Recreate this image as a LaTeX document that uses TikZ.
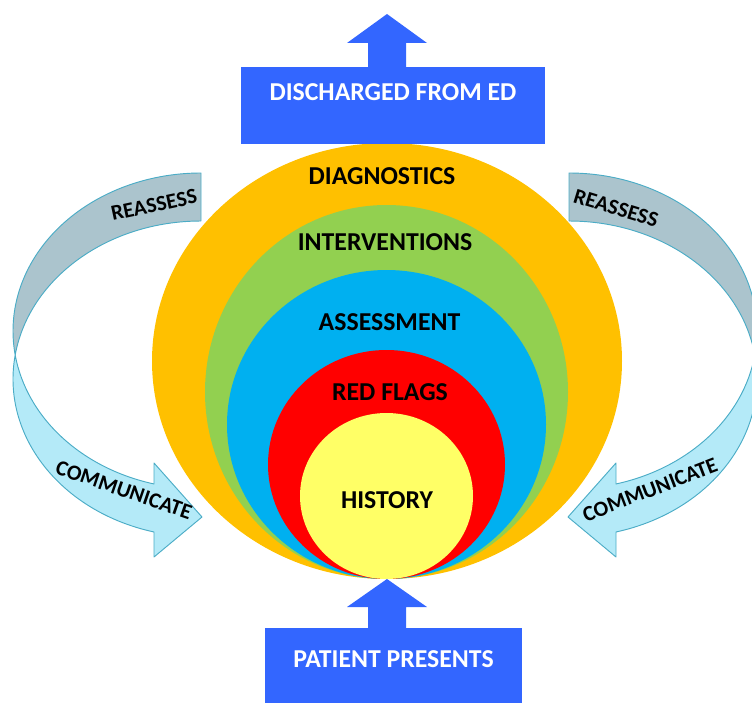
\documentclass[tikz,border=0pt]{standalone}
\usepackage{fontspec}
\setmainfont{Carlito}
\usepackage{xcolor}

\definecolor{ringorange}{HTML}{FFC000}
\definecolor{ringgreen}{HTML}{92D050}
\definecolor{ringblue}{HTML}{00B0F0}
\definecolor{ringred}{HTML}{FF0000}
\definecolor{ringyellow}{HTML}{FFFF66}
\definecolor{boxblue}{HTML}{3366FF}
\definecolor{ribbonback}{HTML}{ABC4CD}
\definecolor{ribbonfront}{HTML}{B4EAF8}
\definecolor{ribbonline}{HTML}{4BACC6}

\begin{document}
\begin{tikzpicture}[x=0.03cm, y=-0.03cm,
    ringlabel/.style={font=\bfseries\fontsize{22}{26}\selectfont, inner sep=0pt},
    looplabel/.style={font=\bfseries\fontsize{18.5}{22}\selectfont, inner sep=0pt},
    loopback/.style={fill=ribbonback, draw=ribbonline, line width=0.8pt, line join=round},
    loopfront/.style={fill=ribbonfront, draw=ribbonline, line width=0.8pt, line join=round},
    stagebox/.style={fill=boxblue, text=white, font=\bfseries\fontsize{22}{26}\selectfont, inner sep=0pt, anchor=north}]
  \useasboundingbox (0,0) rectangle (752,703);

  % Nested rings, all touching at the bottom
  \coordinate (base) at (387,579);
  \fill[ringorange] (387,361) ellipse (235 and 218);
  \fill[ringgreen] (386.5,392) ellipse (181.5 and 187);
  \fill[ringblue] (386.5,424.5) ellipse (159.5 and 154.5);
  \fill[ringred] (386.5,464.5) ellipse (118.5 and 114.5);
  \fill[ringyellow] (386.5,496) ellipse (86.5 and 83);

  \node[ringlabel] (diagnostics) at (382,176) {DIAGNOSTICS};
  \node[ringlabel] (interventions) at (385,242) {INTERVENTIONS};
  \node[ringlabel] (assessment) at (389.5,322) {ASSESSMENT};
  \node[ringlabel] (redflags) at (390,392) {RED FLAGS};
  \node[ringlabel] (history) at (387,500) {HISTORY};

  % Boxes
  \node[stagebox, minimum width=9.12cm, text height=1.005cm, text depth=1.305cm] (discharged) at (393,67) {DISCHARGED FROM ED};
  \node[stagebox, minimum width=7.71cm, text height=1.17cm, text depth=1.2cm] (presents) at (393.5,628) {PATIENT PRESENTS};

  % Block arrows
  \coordinate (exit) at (387,14);
  \fill[boxblue] (presents.north -| base) ++(-19,0) -- ++(0,-21) -- ++(-21,0) -- (base)
    -- ++(40,28) -- ++(-21,0) -- ++(0,21) -- cycle;
  \fill[boxblue] (discharged.north -| exit) ++(-19,0) -- ++(0,-24) -- ++(-21,0) -- (exit)
    -- ++(40,29) -- ++(-21,0) -- ++(0,24) -- cycle;

  % Left loop
  \draw[loopback] (201,173) arc[start angle=270, end angle=171.26, x radius=188, y radius=158]
    arc[start angle=188.74, end angle=270, x radius=188, y radius=158] -- cycle;
  \draw[loopfront] (15.2,355) arc[start angle=171.26, end angle=104.48, x radius=188, y radius=158]
    -- (154,463) -- (202,517) -- (154,557) -- (154,532)
    arc[start angle=104.48, end angle=188.74, x radius=188, y radius=158] -- cycle;

  % Right loop
  \begin{scope}[shift={(770,0)}, xscale=-1]
    \draw[loopback] (201,173) arc[start angle=270, end angle=171.26, x radius=188, y radius=158]
      arc[start angle=188.74, end angle=270, x radius=188, y radius=158] -- cycle;
    \draw[loopfront] (15.2,355) arc[start angle=171.26, end angle=104.48, x radius=188, y radius=158]
      -- (154,463) -- (202,517) -- (154,557) -- (154,532)
      arc[start angle=104.48, end angle=188.74, x radius=188, y radius=158] -- cycle;
  \end{scope}

  \node[looplabel, rotate=12] (reassessleft) at (154,205) {REASSESS};
  \node[looplabel, rotate=-19] (communicateleft) at (124,490) {COMMUNICATE};
  \node[looplabel, rotate=-17] (reassessright) at (616,208) {REASSESS};
  \node[looplabel, rotate=21] (communicateright) at (650,490) {COMMUNICATE};
\end{tikzpicture}
\end{document}
